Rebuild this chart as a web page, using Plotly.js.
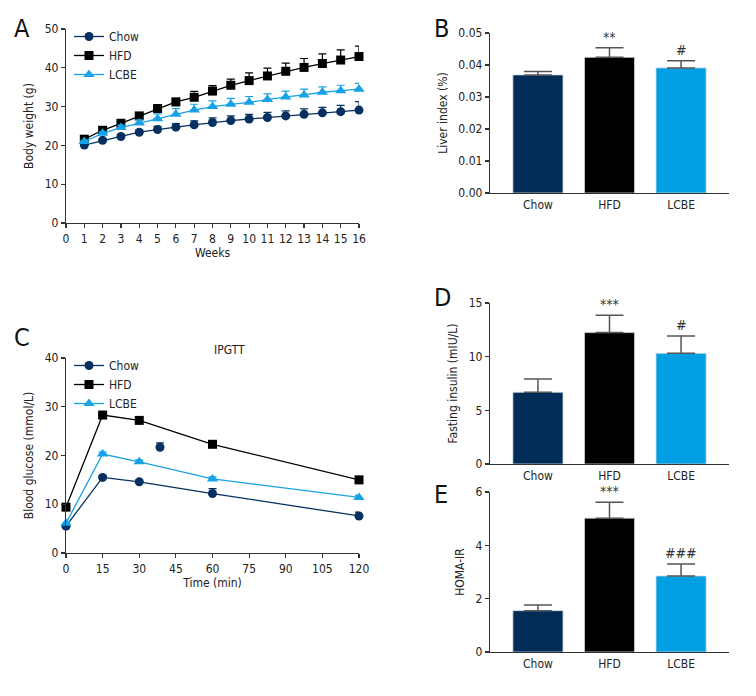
<!DOCTYPE html>
<html>
<head>
<meta charset="utf-8">
<script src="https://cdn.plot.ly/plotly-3.0.1.min.js"></script>
<style>html,body{margin:0;padding:0;background:#fff;}#chart{width:756px;height:696px;}</style>
</head>
<body>
<div id="chart"></div>
<script>
// ---------- Data ----------
const groups = ["Chow", "HFD", "LCBE"];
const weeks = [1,2,3,4,5,6,7,8,9,10,11,12,13,14,15,16];
const chowWeight = [20.1,21.3,22.3,23.4,24.1,24.7,25.3,25.9,26.4,26.8,27.2,27.6,28.0,28.4,28.7,29.1];
const chowWeightErr = [0.3,0.4,0.5,0.6,0.8,0.9,1.0,1.2,1.2,1.2,1.3,1.3,1.4,1.4,1.6,2.2];
const hfdWeight = [21.6,23.9,25.7,27.6,29.5,31.2,32.4,34.0,35.5,36.7,37.9,39.1,40.1,41.1,42.0,42.9];
const hfdWeightErr = [0.4,0.5,0.6,0.7,0.8,0.9,1.5,1.4,1.6,2.0,2.0,2.1,2.3,2.5,2.6,2.7];
const lcbeWeight = [21.0,23.1,24.6,25.8,26.9,28.0,29.1,30.0,30.6,31.1,31.8,32.5,33.0,33.7,34.1,34.5];
const lcbeWeightErr = [0.3,0.4,0.6,0.8,1.2,1.5,1.5,1.5,1.5,1.5,1.5,1.5,1.5,1.4,1.4,1.5];

const liverIndex = [0.0369, 0.0424, 0.0391];
const liverIndexErr = [0.0011, 0.0030, 0.0022];
const liverSig = ["", "**", "#"];

const times = [0, 15, 30, 60, 120];
const chowGlucose = [5.5, 15.5, 14.6, 12.2, 7.6];
const chowGlucoseErr = [0.3, 0.4, 0.4, 1.0, 0.8];
const hfdGlucose = [9.4, 28.3, 27.2, 22.3, 15.0];
const hfdGlucoseErr = [0.3, 0.4, 0.4, 0.4, 0.4];
const lcbeGlucose = [6.1, 20.3, 18.7, 15.2, 11.4];
const lcbeGlucoseErr = [0.3, 0.4, 0.4, 0.4, 0.4];
const chowStrayTime = [38.5];
const chowStrayGlucose = [21.7];
const chowStrayErr = [0.9];

const insulin = [6.68, 12.24, 10.31];
const insulinErr = [1.24, 1.62, 1.62];
const insulinSig = ["", "***", "#"];

const homaIR = [1.55, 5.02, 2.85];
const homaIRErr = [0.21, 0.60, 0.45];
const homaSig = ["", "***", "###"];

const panelLetters = ["A", "B", "C", "D", "E"];

// ---------- Styles ----------
const FONT = "Liberation Sans Narrow, DejaVu Sans Condensed, Arial Narrow, sans-serif";
const cChow = "#05305f";
const cHFD = "#000000";
const cLCBE = "#17a2e6";
const barColors = ["#022c58", "#000000", "#009fe3"];
const axisColor = "#333333";

function lineTrace(x, y, err, name, color, symbol, xa, ya, legend, showleg) {
  return {
    type: "scatter", mode: "lines+markers", x: x, y: y, name: name,
    xaxis: xa, yaxis: ya, legend: legend, showlegend: showleg, cliponaxis: false,
    line: {color: color, width: 1.3},
    marker: {color: color, symbol: symbol, size: symbol === "triangle-up" ? 10 : 9},
    error_y: {type: "data", symmetric: false, array: err, arrayminus: err.map(() => 0),
              color: color, thickness: 1.2, width: 4}
  };
}
function barTrace(vals, errs, xa, ya) {
  return {
    type: "bar", x: groups, y: vals, xaxis: xa, yaxis: ya, showlegend: false,
    width: 0.7,
    marker: {color: barColors, line: {color: "#cfd8e0", width: 0.8}},
    error_y: {type: "data", symmetric: false, array: errs, arrayminus: errs.map(() => 0),
              color: "#555555", thickness: 1.5, width: 14}
  };
}

const traces = [
  lineTrace(weeks, chowWeight, chowWeightErr, "Chow", cChow, "circle", "x", "y", "legend", true),
  lineTrace(weeks, hfdWeight, hfdWeightErr, "HFD", cHFD, "square", "x", "y", "legend", true),
  lineTrace(weeks, lcbeWeight, lcbeWeightErr, "LCBE", cLCBE, "triangle-up", "x", "y", "legend", true),
  barTrace(liverIndex, liverIndexErr, "x2", "y2"),
  lineTrace(times, chowGlucose, chowGlucoseErr, "Chow", cChow, "circle", "x3", "y3", "legend2", true),
  lineTrace(times, hfdGlucose, hfdGlucoseErr, "HFD", cHFD, "square", "x3", "y3", "legend2", true),
  lineTrace(times, lcbeGlucose, lcbeGlucoseErr, "LCBE", cLCBE, "triangle-up", "x3", "y3", "legend2", true),
  {type: "scatter", mode: "markers", x: chowStrayTime, y: chowStrayGlucose, xaxis: "x3", yaxis: "y3",
   showlegend: false, cliponaxis: false, marker: {color: cChow, symbol: "circle", size: 9},
   error_y: {type: "data", symmetric: false, array: chowStrayErr, arrayminus: [0], color: cChow, thickness: 1.2, width: 4}},
  barTrace(insulin, insulinErr, "x4", "y4"),
  barTrace(homaIR, homaIRErr, "x5", "y5")
];

const W = 756, H = 696;
const px = v => v / W;
const py = v => 1 - v / H;

function axisBase(extra) {
  return Object.assign({
    showline: true, linecolor: axisColor, linewidth: 1.2, mirror: false,
    ticks: "outside", ticklen: 4, tickwidth: 1.2, tickcolor: axisColor,
    showgrid: false, zeroline: false, fixedrange: true,
    tickfont: {family: FONT, size: 12, color: "#222"}
  }, extra);
}
const titleFont = {family: FONT, size: 12, color: "#222"};

const annotations = [];
function sig(labels, vals, errs, xa, ya) {
  labels.forEach((t, i) => {
    if (!t) return;
    annotations.push({xref: xa, yref: ya, x: groups[i], y: vals[i] + errs[i], text: t,
      showarrow: false, yanchor: "bottom", yshift: 1, font: {family: FONT, size: 14, color: "#333"}});
  });
}
sig(liverSig, liverIndex, liverIndexErr, "x2", "y2");
sig(insulinSig, insulin, insulinErr, "x4", "y4");
sig(homaSig, homaIR, homaIRErr, "x5", "y5");

const letterPos = [[12, 28], [432, 28], [12, 337], [432, 297], [432, 495]];
panelLetters.forEach((L, i) => {
  annotations.push({xref: "paper", yref: "paper", x: px(letterPos[i][0]), y: py(letterPos[i][1]),
    text: L, showarrow: false, xanchor: "left", yanchor: "middle",
    font: {family: FONT, size: 25, color: "#111"}});
});

const layout = {
  width: W, height: H, margin: {l: 0, r: 0, t: 0, b: 0},
  paper_bgcolor: "#fff", plot_bgcolor: "rgba(0,0,0,0)",
  font: {family: FONT, size: 12, color: "#222"},
  bargap: 0.3,
  xaxis: axisBase({domain: [px(66), px(359)], range: [0, 16], dtick: 1, tick0: 0, anchor: "y",
    title: {text: "Weeks", font: titleFont, standoff: 4}}),
  yaxis: axisBase({domain: [py(223), py(29)], range: [0, 50], dtick: 10, anchor: "x",
    title: {text: "Body weight (g)", font: titleFont, standoff: 8}}),
  xaxis2: axisBase({domain: [px(490), px(729)], range: [-0.67, 2.67], anchor: "y2", ticks: "",
    type: "category"}),
  yaxis2: axisBase({domain: [py(193), py(33)], range: [0, 0.05], dtick: 0.01, tickformat: ".2f", anchor: "x2",
    title: {text: "Liver index (%)", font: titleFont, standoff: 8}}),
  xaxis3: axisBase({domain: [px(66), px(359)], range: [0, 120], dtick: 15, tick0: 0, anchor: "y3",
    title: {text: "Time (min)", font: titleFont, standoff: 4}}),
  yaxis3: axisBase({domain: [py(553), py(358)], range: [0, 40], dtick: 10, anchor: "x3",
    title: {text: "Blood glucose (mmol/L)", font: titleFont, standoff: 8}}),
  xaxis4: axisBase({domain: [px(490), px(729)], range: [-0.67, 2.67], anchor: "y4", ticks: "",
    type: "category"}),
  yaxis4: axisBase({domain: [py(464), py(303)], range: [0, 15], dtick: 5, anchor: "x4",
    title: {text: "Fasting insulin (mIU/L)", font: titleFont, standoff: 8}}),
  xaxis5: axisBase({domain: [px(490), px(729)], range: [-0.67, 2.67], anchor: "y5", ticks: "",
    type: "category"}),
  yaxis5: axisBase({domain: [py(652), py(492)], range: [0, 6], dtick: 2, anchor: "x5",
    title: {text: "HOMA-IR", font: titleFont, standoff: 8}}),
  legend: {x: px(69), y: py(22), xanchor: "left", yanchor: "top", bgcolor: "rgba(0,0,0,0)",
    font: {family: FONT, size: 12, color: "#222"}, tracegroupgap: 0, itemwidth: 30},
  legend2: {x: px(69), y: py(351), xanchor: "left", yanchor: "top", bgcolor: "rgba(0,0,0,0)",
    font: {family: FONT, size: 12, color: "#222"}, tracegroupgap: 0, itemwidth: 30},
  annotations: annotations.concat([
    {xref: "paper", yref: "paper", x: px(212), y: py(350), text: "IPGTT", showarrow: false,
     font: {family: FONT, size: 12, color: "#222"}}
  ])
};

Plotly.newPlot("chart", traces, layout, {staticPlot: true, displayModeBar: false});
</script>
</body>
</html>
